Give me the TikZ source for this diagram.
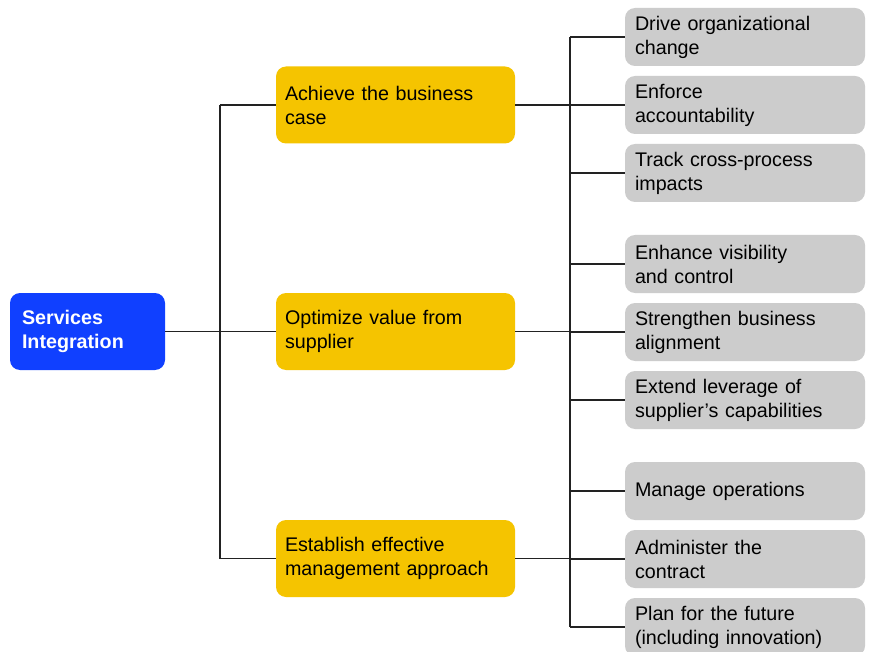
\documentclass[tikz,border=0pt]{standalone}
\usepackage{fontspec}
\setmainfont{Liberation Sans}
\definecolor{rootblue}{HTML}{1040FF}
\definecolor{goldbox}{HTML}{F5C400}
\definecolor{greybox}{HTML}{CCCCCC}
\definecolor{linecol}{HTML}{222222}
\tikzset{
  rootbox/.style={rectangle, rounded corners=10pt, fill=rootblue, text=white,
    font=\fontsize{19.7}{24}\selectfont\bfseries, inner xsep=12pt, inner ysep=0pt,
    text width=131pt, minimum height=77pt, align=left},
  goalbox/.style={rectangle, rounded corners=10pt, fill=goldbox, text=black,
    font=\fontsize{19.7}{24}\selectfont, inner xsep=9pt, inner ysep=0pt,
    text width=221pt, minimum height=77pt, align=left},
  leafbox/.style={rectangle, rounded corners=10pt, fill=greybox, text=black,
    font=\fontsize{19.7}{24}\selectfont, inner xsep=10pt, inner ysep=0pt,
    text width=220pt, minimum height=58pt, align=left},
  conn/.style={draw=linecol, line width=1.3pt}
}
\begin{document}
\begin{tikzpicture}[x=1pt,y=-1pt]
\useasboundingbox (0,0) rectangle (880,652);
\clip (0,0) rectangle (880,652);
\fill[white] (0,0) rectangle (880,652);

\node[rootbox] (root) at (87.5,331.5) {Services\\Integration};

\node[goalbox] (y1) at (395.5,105) {Achieve the business\\case};
\node[goalbox] (y2) at (395.5,331.5) {Optimize value from\\supplier};
\node[goalbox] (y3) at (395.5,558.5) {Establish effective\\management approach};

\node[leafbox] (g1) at (745,37) {Drive organizational\\change};
\node[leafbox] (g2) at (745,105) {Enforce\\accountability};
\node[leafbox] (g3) at (745,173) {Track cross-process\\impacts};
\node[leafbox] (g4) at (745,264) {Enhance visibility\\and control};
\node[leafbox] (g5) at (745,332) {Strengthen business\\alignment};
\node[leafbox] (g6) at (745,400) {Extend leverage of\\supplier’s capabilities};
\node[leafbox] (g7) at (745,491) {Manage operations};
\node[leafbox] (g8) at (745,559) {Administer the\\contract};
\node[leafbox] (g9) at (745,627) {Plan for the future\\(including innovation)};

\coordinate (jl) at (220,331.5);
\coordinate (jr) at (570,331.5);

% left tree
\draw[conn] (root.east) -- (y2.west);
\draw[conn] (y1.west -| jl) -- (y3.west -| jl);
\draw[conn] (y1.west -| jl) -- (y1.west);
\draw[conn] (y3.west -| jl) -- (y3.west);

% right tree
\draw[conn] (g1.west -| jr) -- (g9.west -| jr);
\foreach \g in {g1,g2,g3,g4,g5,g6,g7,g8,g9}{
  \draw[conn] (\g.west -| jr) -- (\g.west);
}
\draw[conn] (y1.east) -- (y1.east -| jr);
\draw[conn] (y2.east) -- (y2.east -| jr);
\draw[conn] (y3.east) -- (y3.east -| jr);
\end{tikzpicture}
\end{document}
